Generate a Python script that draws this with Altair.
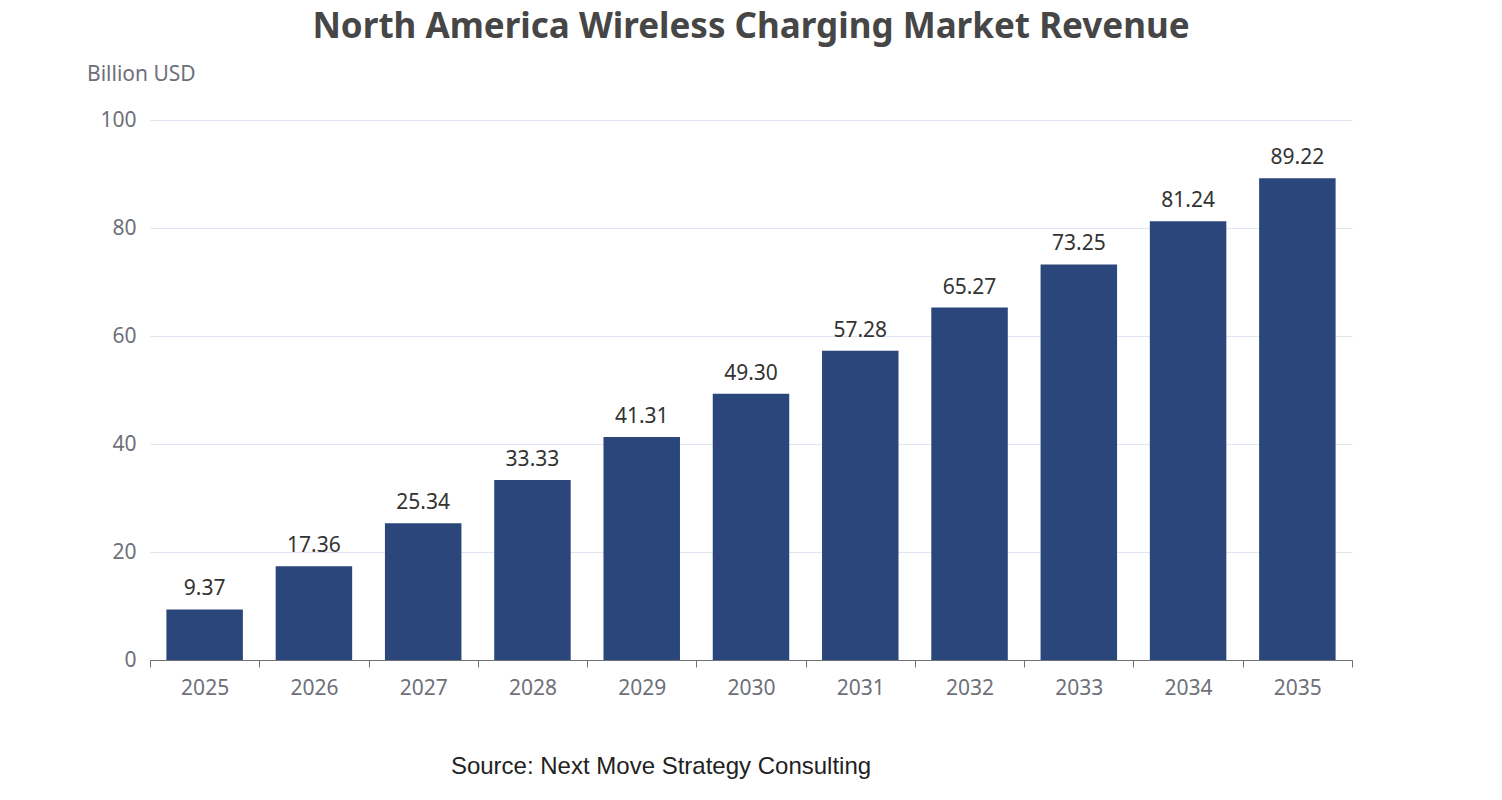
import altair as alt
import pandas as pd

years = ["2025", "2026", "2027", "2028", "2029", "2030", "2031", "2032", "2033", "2034", "2035"]
revenue = [9.37, 17.36, 25.34, 33.33, 41.31, 49.30, 57.28, 65.27, 73.25, 81.24, 89.22]

df = pd.DataFrame({"Year": years, "Revenue": revenue})
df["Label"] = [f"{v:.2f}" for v in revenue]

base = alt.Chart(df)

bars = base.mark_bar(color="#2b467a", width=alt.RelativeBandSize(0.7)).encode(
    x=alt.X("Year:N", title=None, scale=alt.Scale(paddingInner=0, paddingOuter=0),
            axis=alt.Axis(labelAngle=0, labelFontSize=21, labelColor="#6e7079", labelPadding=10,
                          domainColor="#6e7079", tickColor="#6e7079", tickSize=7, tickBand="extent",
                          labelFont="Noto Sans")),
    y=alt.Y("Revenue:Q", title=None, scale=alt.Scale(domain=[0, 100]),
            axis=alt.Axis(values=[0, 20, 40, 60, 80, 100], labelFontSize=21, labelColor="#6e7079",
                          domain=False, ticks=False, gridColor="#e0e6f1", labelPadding=14,
                          labelFont="Noto Sans")),
)

labels = base.mark_text(dy=-20, fontSize=21, color="#333333", font="Noto Sans").encode(
    x="Year:N", y="Revenue:Q", text="Label:N"
)

title = alt.Chart(pd.DataFrame({"t": ["North America Wireless Charging Market Revenue"]})).mark_text(
    fontSize=35, fontWeight="bold", color="#464646", font="Noto Sans", align="center"
).encode(x=alt.value(601), y=alt.value(-93), text="t:N")

unit = alt.Chart(pd.DataFrame({"t": ["Billion USD"]})).mark_text(
    fontSize=21, color="#6e7079", font="Noto Sans", align="left"
).encode(x=alt.value(-63), y=alt.value(-45), text="t:N")

source = alt.Chart(pd.DataFrame({"t": ["Source: Next Move Strategy Consulting"]})).mark_text(
    fontSize=24, color="#222222", font="Liberation Sans", align="center"
).encode(x=alt.value(511), y=alt.value(647), text="t:N")

chart = alt.layer(bars, labels, title, unit, source).properties(
    width=1202, height=540, autosize=alt.AutoSizeParams(type="none"),
    padding={"left": 142, "top": 112, "right": 142, "bottom": 132}
).configure_view(stroke=None)

chart.save("out.html", embed_options={"renderer": "svg", "actions": False})
